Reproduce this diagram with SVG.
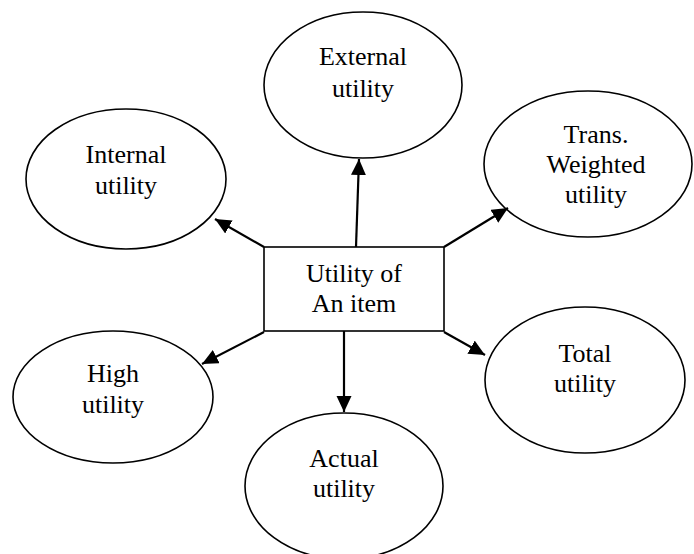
<svg xmlns="http://www.w3.org/2000/svg" width="694" height="554" viewBox="0 0 694 554">
<style>
.node{fill:#fff;stroke:#000;stroke-width:1.6}
.t{font-family:"Liberation Serif","Times New Roman",serif;font-size:26px;fill:#000;text-anchor:middle}
.c{stroke:#000;stroke-width:2.2;fill:none;marker-end:url(#ah)}
</style>
<defs>
<marker id="ah" markerUnits="userSpaceOnUse" markerWidth="18" markerHeight="16" refX="16" refY="7.5" orient="auto">
<path d="M0,0 L16,7.5 L0,15 Z" fill="#000"/>
</marker>
</defs>
<rect width="694" height="554" fill="#fff"/>
<g id="external"><ellipse class="node" cx="363" cy="85" rx="99" ry="73"/><text class="t" x="363" y="65">External</text><text class="t" x="363" y="97">utility</text></g>
<g id="internal"><ellipse class="node" cx="126" cy="179" rx="100" ry="70"/><text class="t" x="126" y="163">Internal</text><text class="t" x="126" y="194">utility</text></g>
<g id="trans"><ellipse class="node" cx="588" cy="164" rx="104" ry="73"/><text class="t" x="596" y="143">Trans.</text><text class="t" x="596" y="173">Weighted</text><text class="t" x="596" y="203">utility</text></g>
<g id="high"><ellipse class="node" cx="113" cy="397" rx="100" ry="66"/><text class="t" x="113" y="382">High</text><text class="t" x="113" y="413">utility</text></g>
<g id="total"><ellipse class="node" cx="585" cy="380" rx="100" ry="73"/><text class="t" x="585" y="362">Total</text><text class="t" x="585" y="392">utility</text></g>
<g id="actual"><ellipse class="node" cx="344" cy="486" rx="99" ry="73"/><text class="t" x="344" y="467">Actual</text><text class="t" x="344" y="497">utility</text></g>
<g id="center"><rect class="node" x="264" y="247" width="180" height="84"/><text class="t" x="354" y="282">Utility of</text><text class="t" x="354" y="312">An item</text></g>
<g id="connectors">
<line class="c" x1="356" y1="247" x2="359" y2="159"/>
<line class="c" x1="264" y1="247" x2="215" y2="219"/>
<line class="c" x1="444" y1="247" x2="508" y2="208"/>
<line class="c" x1="264" y1="332" x2="202" y2="364"/>
<line class="c" x1="444" y1="332" x2="485" y2="355"/>
<line class="c" x1="344" y1="331" x2="344" y2="412"/>
</g>
</svg>
